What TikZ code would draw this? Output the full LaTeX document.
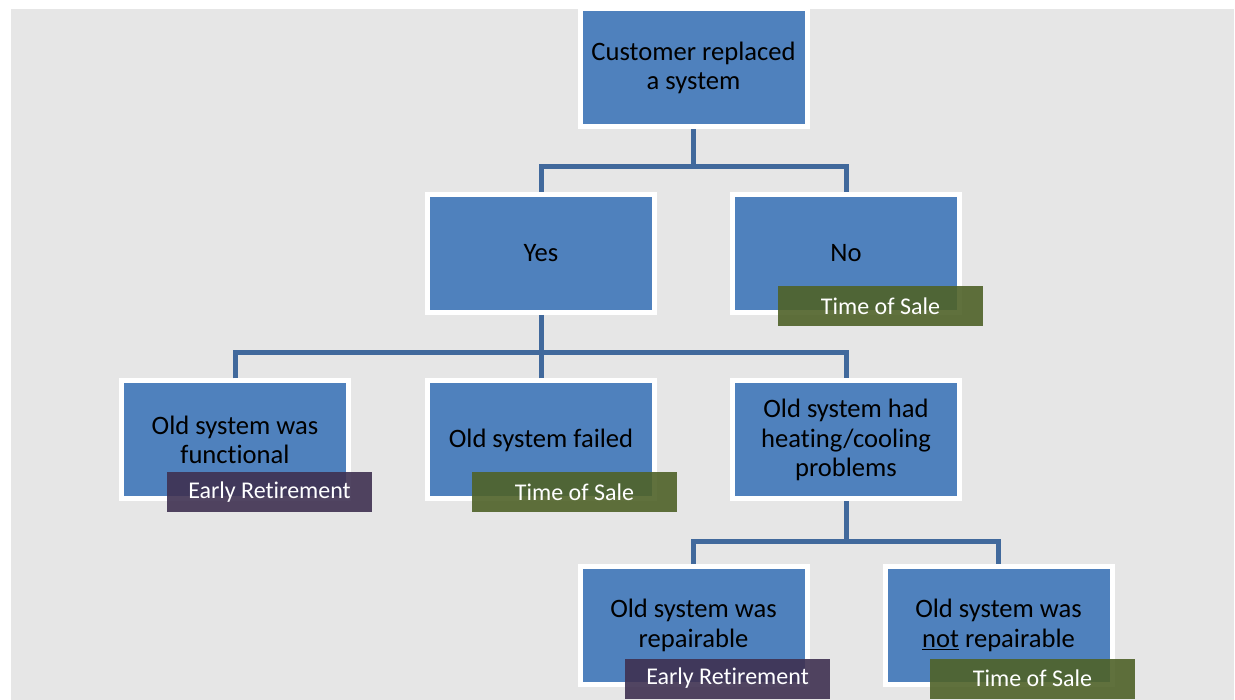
\documentclass[tikz,border=0pt]{standalone}
\usepackage{fontspec}
\setmainfont{Carlito}[Ligatures=NoCommon]
\usetikzlibrary{calc}
\definecolor{boxblue}{HTML}{4F81BD}
\definecolor{connblue}{HTML}{41699C}
\definecolor{bggray}{HTML}{E6E6E6}
\definecolor{olivedark}{HTML}{4F6228}
\definecolor{purpledark}{HTML}{3F3151}
\tikzset{
  box/.style={fill=boxblue, draw=white, line width=5pt, minimum width=227pt, minimum height=118pt,
              inner sep=0pt, align=center, font=\fontsize{26.6}{29.5}\selectfont, text=black},
  tag/.style={minimum width=205pt, minimum height=40pt, inner sep=0pt, text=white,
              font=\fontsize{24}{28}\selectfont, fill opacity=0.9, text opacity=1},
  tos/.style={tag, fill=olivedark},
  er/.style={tag, fill=purpledark},
  conn/.style={draw=connblue, line width=5pt}
}
\begin{document}
\begin{tikzpicture}[x=1pt,y=-1pt]
\path[use as bounding box, fill=white] (0,0) rectangle (1235,700);
\fill[bggray] (11,9) rectangle (1234,700);

\coordinate (b1) at (693.5,167);
\coordinate (b2) at (541,353);
\coordinate (b3) at (846,541);

\node[box] (top) at (693.5,68) {Customer replaced\\a system};
\node[box] (yes) at (541,253.5) {Yes};
\node[box] (no) at (846,253.5) {No};
\node[box] (func) at (235,440) {Old system was\\functional};
\node[box] (fail) at (541,440) {Old system failed};
\node[box] (heat) at (846,440) {Old system had\\heating/cooling\\problems};
\node[box] (rep) at (693.5,625.5) {Old system was\\repairable};
\node[box] (nrep) at (998.5,625.5) {Old system was\\\underline{not} repairable};

\draw[conn] (top.south) -- (b1);
\draw[conn] (yes.north) |- (b1) -| (no.north);
\draw[conn] (yes.south) -- (b2);
\draw[conn] (func.north) |- (b2) -| (heat.north);
\draw[conn] (fail.north) -- (b2);
\draw[conn] (heat.south) -- (b3);
\draw[conn] (rep.north) |- (b3) -| (nrep.north);

\node[tos] (t1) at ($(no.center)+(34.5,53)$) {Time of Sale};
\node[er]  (t2) at ($(func.center)+(34.5,52.5)$) {Early Retirement};
\node[tos] (t3) at ($(fail.center)+(33.5,52.5)$) {Time of Sale};
\node[er]  (t4) at ($(rep.center)+(34,53)$) {Early Retirement};
\node[tos] (t5) at ($(nrep.center)+(34,53)$) {Time of Sale};
\end{tikzpicture}
\end{document}
